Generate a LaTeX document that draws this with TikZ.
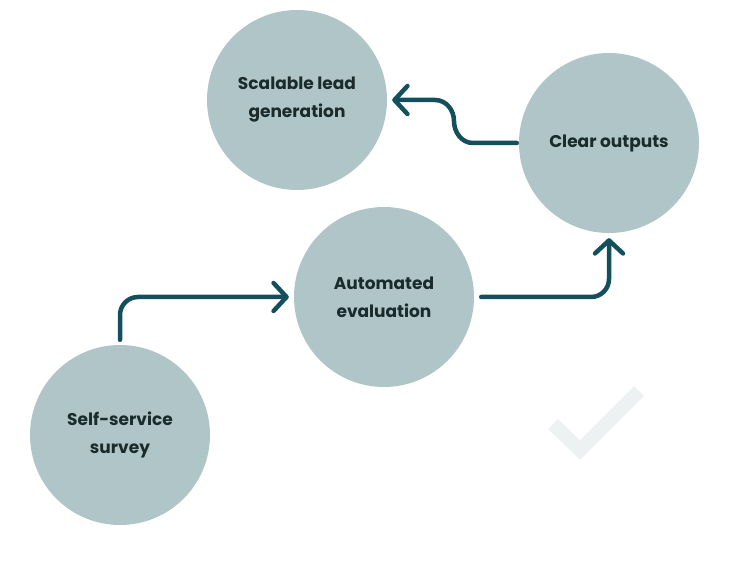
\documentclass[tikz,border=0pt]{standalone}
\usepackage{fontspec}
\setmainfont{Poppins}
\usepackage{tikz}
\usetikzlibrary{arrows.meta, positioning}
\definecolor{circlegrey}{HTML}{AFC5C7}
\definecolor{arrowteal}{HTML}{134F5C}
\definecolor{textdark}{HTML}{1B2B2B}
\definecolor{checkgrey}{HTML}{EEF1F1}

\begin{document}
\begin{tikzpicture}[
      x=1pt, y=-1pt,
      stage/.style={circle, fill=circlegrey, minimum size=180pt, inner sep=0pt,
                    text=textdark, align=center,
                    font=\fontsize{17}{28}\selectfont\bfseries},
      flow/.style={line width=4.5pt, arrowteal, line cap=round, line join=round,
                   -{Straight Barb[length=13pt, width=28pt, round]}}
    ]
    \useasboundingbox (0,0) rectangle (742,561);

    %% faint check mark
    \draw[checkgrey, line width=14pt] (553,424) -- (580,450) -- (639,391);

    \node[stage] (lead)   at (297,100) {Scalable lead\\generation};
    \node[stage] (clear)  at (609,143) {Clear outputs};
    \node[stage] (auto)   at (384,297) {Automated\\evaluation};
    \node[stage] (survey) at (120,435) {Self-service\\survey};

    \coordinate (bend) at (454,121);

    \draw[flow, rounded corners=18pt] ([yshift=5pt]survey.north) |- ([xshift=-5pt]auto.west);
    \draw[flow, rounded corners=18pt] ([xshift=7pt]auto.east) -| ([yshift=-5pt]clear.south);
    \draw[flow] ([xshift=-2pt]clear.west) -- (473,143) to[out=180, in=-90] (bend)
      to[out=90, in=0] (435,100) -- ([xshift=5pt]lead.east);
  \end{tikzpicture}
\end{document}
